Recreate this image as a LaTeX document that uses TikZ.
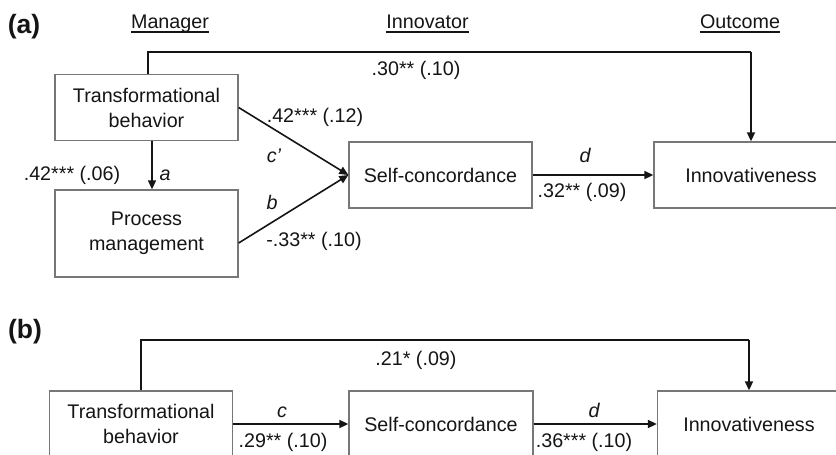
\documentclass[tikz,border=0pt]{standalone}
\usepackage{fontspec}
\setmainfont{Liberation Sans}
\usetikzlibrary{arrows.meta}
\definecolor{ink}{HTML}{151515}
\definecolor{boxline}{HTML}{777777}
\begin{document}
\begin{tikzpicture}[x=1pt,y=-1pt,
  box/.style={draw=boxline, line width=1.3pt, rectangle, minimum width=183pt, minimum height=66pt, align=center, inner sep=0pt, text=ink, font=\fontsize{19.7}{25}\selectfont},
  arr/.style={draw=ink, line width=1.6pt, -{Triangle[length=9pt,width=8pt]}},
  ln/.style={draw=ink, line width=1.6pt},
  lbl/.style={font=\fontsize{19.7}{23}\selectfont, text=ink, inner sep=0pt, anchor=base},
  ilbl/.style={lbl, font=\fontsize{19.7}{23}\selectfont\itshape},
  panel/.style={font=\fontsize{26.5}{30}\selectfont\bfseries, text=ink, inner sep=0pt, anchor=base},
  ul/.style={draw=ink, line width=1.2pt}
]
\useasboundingbox (0,0) rectangle (836,455);
\clip (0,0) rectangle (836,455);
\fill[white] (0,0) rectangle (836,455);

% ---------- panel (a) ----------
\node[panel] (pa) at (24,33) {(a)};
\node[lbl] (hm) at (170,28) {Manager};
\node[lbl] (hi) at (427.5,28) {Innovator};
\node[lbl] (ho) at (740,28) {Outcome};
\draw[ul] ([yshift=-4pt]hm.base west) -- ([yshift=-4pt]hm.base east);
\draw[ul] ([yshift=-4pt]hi.base west) -- ([yshift=-4pt]hi.base east);
\draw[ul] ([yshift=-4pt]ho.base west) -- ([yshift=-4pt]ho.base east);

\node[box] (tba) at (146.5,107.5) {Transformational\\behavior};
\node[box, minimum height=87pt] (pm) at (146.5,233.5) {Process\\management};
\node[box] (sca) at (440.5,175) {Self-concordance};
\node[box, minimum width=194pt] (ina) at (751,175) {Innovativeness};

\coordinate (ta1) at ([xshift=1.5pt]tba.north);
\coordinate (ta2) at (ta1 |- 0,52);
\coordinate (ta3) at (ina.north |- 0,52);
\draw[ln] (ta1) -- (ta2) -- (ta3);
\draw[arr] (ta3) -- (ina.north);

\draw[arr] ([xshift=5.5pt]tba.south) -- ([xshift=5.5pt]pm.north);
\draw[arr] (tba.east) -- (sca.west);
\draw[arr] ([yshift=-9.5pt]pm.east) -- (sca.west);
\draw[arr] (sca.east) -- (ina.west);

\node[lbl] (l30) at (416,75) {.30** (.10)};
\node[lbl] (l42a) at (315,122) {.42*** (.12)};
\node[ilbl] (lc) at (274,162) {c’};
\node[lbl] (l42b) at (72,180) {.42*** (.06)};
\node[ilbl] (la) at (165,180) {a};
\node[ilbl] (lb) at (272,209) {b};
\node[lbl] (l33) at (314,246) {-.33** (.10)};
\node[ilbl] (lda) at (585,162) {d};
\node[lbl] (l32) at (582,197) {.32** (.09)};

% ---------- panel (b) ----------
\node[panel] (pb) at (25,338) {(b)};
\node[box] (tbb) at (141,424) {Transformational\\behavior};
\node[box, minimum width=184pt] (scb) at (441,424) {Self-concordance};
\node[box] (inb) at (749,424) {Innovativeness};

\coordinate (tb1) at (tbb.north);
\coordinate (tb2) at (tb1 |- 0,340);
\coordinate (tb3) at (inb.north |- 0,340);
\draw[ln] (tb1) -- (tb2) -- (tb3);
\draw[arr] (tb3) -- (inb.north);
\draw[arr] (tbb.east) -- (scb.west);
\draw[arr] (scb.east) -- (inb.west);

\node[lbl] (l21) at (416,365) {.21* (.09)};
\node[ilbl] (lcb) at (282,417) {c};
\node[lbl] (l29) at (283,447) {.29** (.10)};
\node[ilbl] (ldb) at (594,417) {d};
\node[lbl] (l36) at (584,447) {.36*** (.10)};
\end{tikzpicture}
\end{document}
